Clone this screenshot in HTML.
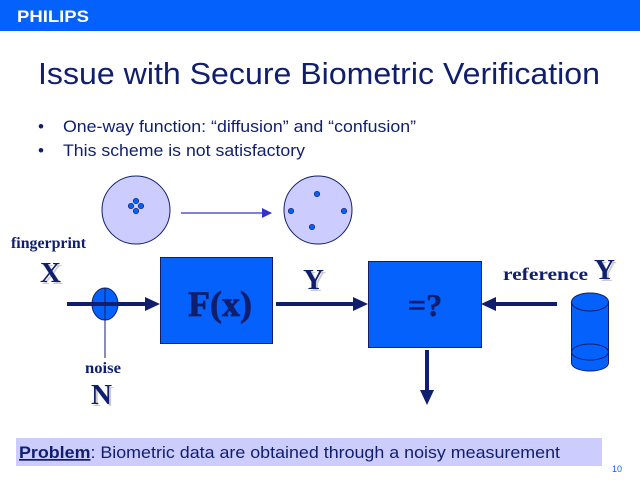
<!DOCTYPE html>
<html><head><style>
body{margin:0;width:640px;height:480px;overflow:hidden;background:#fff}
svg{display:block}
</style></head><body>
<svg width="640" height="480" xmlns="http://www.w3.org/2000/svg">
<defs>
<marker id="a" markerWidth="10" markerHeight="10" refX="9" refY="5" orient="auto" markerUnits="userSpaceOnUse"><path d="M0,0 L10,5 L0,10z" fill="#3333cc"/></marker>
</defs>
<rect x="0" y="0" width="640" height="31" fill="#0561fb"/>
<text x="17" y="22" font-family="Liberation Sans, sans-serif" font-weight="bold" font-size="17" fill="#fff" textLength="72" lengthAdjust="spacingAndGlyphs">PHILIPS</text>
<text x="38" y="84" font-family="Liberation Sans, sans-serif" font-size="31" fill="#0f1f6e" textLength="562" lengthAdjust="spacingAndGlyphs">Issue with Secure Biometric Verification</text>
<g font-family="Liberation Sans, sans-serif" font-size="17" fill="#0f1f6e">
<text x="38" y="132">•</text><text x="63" y="132" textLength="353" lengthAdjust="spacingAndGlyphs">One-way function: “diffusion” and “confusion”</text>
<text x="38" y="156">•</text><text x="63" y="156" textLength="242" lengthAdjust="spacingAndGlyphs">This scheme is not satisfactory</text>
</g>
<circle cx="136" cy="210" r="34" fill="#ccccff" stroke="#0f1f6e" stroke-width="1"/>
<g fill="#0561fb" stroke="#0f1f6e" stroke-width="0.7">
<circle cx="136" cy="201" r="2.7"/><circle cx="131" cy="206" r="2.7"/><circle cx="141" cy="206" r="2.7"/><circle cx="136" cy="211" r="2.7"/>
</g>
<line x1="181" y1="213" x2="271" y2="213" stroke="#3333cc" stroke-width="1.2" marker-end="url(#a)"/>
<circle cx="318" cy="210" r="34" fill="#ccccff" stroke="#0f1f6e" stroke-width="1"/>
<g fill="#0561fb" stroke="#0f1f6e" stroke-width="0.7">
<circle cx="317" cy="194" r="2.7"/><circle cx="291" cy="211" r="2.7"/><circle cx="344" cy="211" r="2.7"/><circle cx="312" cy="227" r="2.7"/>
</g>
<g font-family="Liberation Serif, serif" font-weight="bold" fill="#0f1f6e">
<text x="11" y="248" font-size="16" textLength="75" lengthAdjust="spacingAndGlyphs">fingerprint</text>
<text x="42" y="284" font-size="29" fill="#ccc">X</text><text x="40" y="282" font-size="29">X</text>
<text x="85" y="373" font-size="16" textLength="36" lengthAdjust="spacingAndGlyphs">noise</text>
<text x="93" y="406" font-size="29" fill="#ccc">N</text><text x="91" y="404" font-size="29">N</text>
<text x="305" y="291" font-size="29" fill="#ccc">Y</text><text x="303" y="289" font-size="29">Y</text>
<text x="503" y="280" font-size="18" textLength="85" lengthAdjust="spacingAndGlyphs">reference</text>
<text x="596" y="281" font-size="29" fill="#ccc">Y</text><text x="594" y="279" font-size="29">Y</text>
</g>
<line x1="67" y1="304" x2="148" y2="304" stroke="#0f1f6e" stroke-width="4"/>
<path d="M145,297 L160,304 L145,311z" fill="#0f1f6e"/>
<ellipse cx="105" cy="304" rx="13" ry="16" fill="#0561fb" stroke="#0f1f6e" stroke-width="1"/>
<line x1="67" y1="304" x2="118" y2="304" stroke="#0f1f6e" stroke-width="4"/>
<line x1="105" y1="288" x2="105" y2="358" stroke="#0f1f6e" stroke-width="1"/>
<rect x="160.5" y="257.5" width="112" height="86" fill="#0561fb" stroke="#0f1f6e"/>
<text x="220" y="316" text-anchor="middle" font-family="Liberation Serif, serif" font-weight="bold" font-size="36" fill="#0f1f6e" stroke="#0f1f6e" stroke-width="0.8">F(x)</text>
<line x1="276" y1="304" x2="356" y2="304" stroke="#0f1f6e" stroke-width="4"/>
<path d="M353,297 L368,304 L353,311z" fill="#0f1f6e"/>
<rect x="368.5" y="261.5" width="113" height="86" fill="#0561fb" stroke="#0f1f6e"/>
<text x="425" y="316" text-anchor="middle" font-family="Liberation Serif, serif" font-weight="bold" font-size="32" fill="#0f1f6e" stroke="#0f1f6e" stroke-width="0.6">=?</text>
<line x1="557" y1="304" x2="494" y2="304" stroke="#0f1f6e" stroke-width="4"/>
<path d="M496,297 L481,304 L496,311z" fill="#0f1f6e"/>
<line x1="427" y1="350" x2="427" y2="392" stroke="#0f1f6e" stroke-width="4"/>
<path d="M420,390 L427,405 L434,390z" fill="#0f1f6e"/>
<path d="M571.5,302 L571.5,363 A18.5,8 0 0 0 608.5,363 L608.5,302" fill="#0561fb" stroke="#0f1f6e"/>
<ellipse cx="590" cy="302" rx="18.5" ry="9" fill="#0561fb" stroke="#0f1f6e"/>
<path d="M571.5,352 A18.5,8 0 0 0 608.5,352" fill="none" stroke="#0f1f6e"/>
<path d="M571.5,352 A18.5,8 0 0 1 608.5,352" fill="none" stroke="#0f1f6e"/>
<rect x="16" y="438" width="586" height="28" fill="#ccccff"/>
<text x="19" y="458" font-family="Liberation Sans, sans-serif" font-size="17" fill="#0f1f6e" textLength="541" lengthAdjust="spacingAndGlyphs"><tspan font-weight="bold" text-decoration="underline">Problem</tspan>: Biometric data are obtained through a noisy measurement</text>
<text x="612" y="472" font-family="Liberation Sans, sans-serif" font-size="9" fill="#0561fb">10</text>
</svg>
</body></html>
